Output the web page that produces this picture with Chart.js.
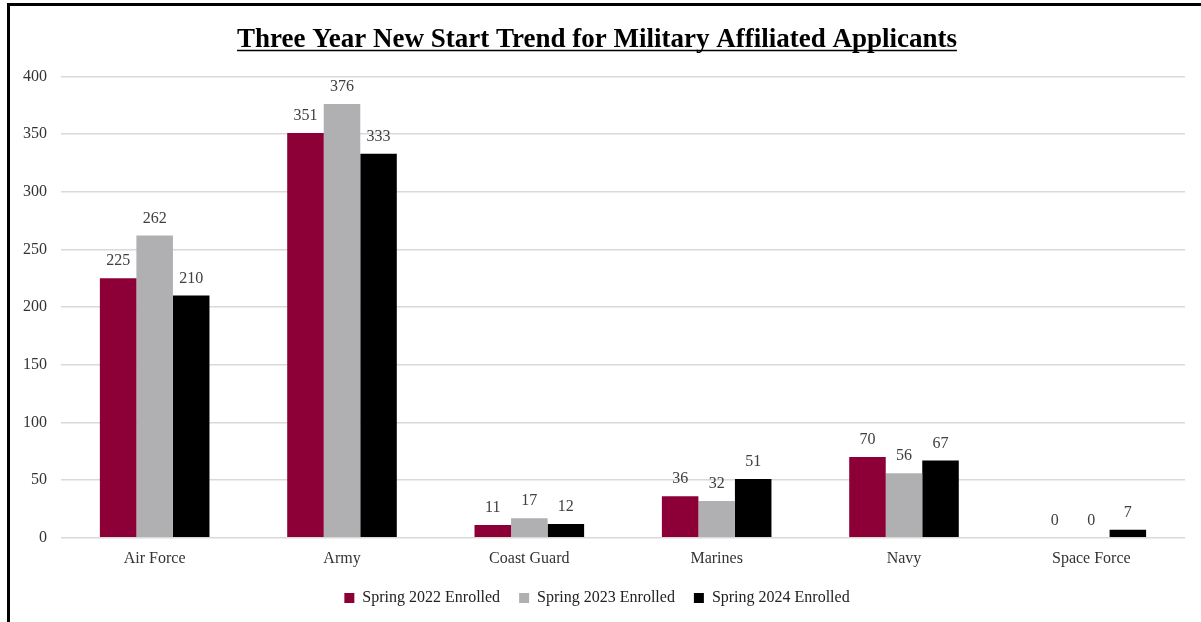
<!DOCTYPE html>
<html lang="en">
  <head>
    <meta charset="UTF-8" />
    <title>Three Year New Start Trend</title>
    <script src="https://cdn.jsdelivr.net/npm/chart.js"></script>
    <style>
      body { margin: 0; background: #fff; overflow: hidden; }
      .wrap { position: relative; width: 1201px; height: 622px; }
      .frame {
        position: absolute; left: 7px; top: 3px; width: 1300px; height: 700px;
        border-left: 3px solid #000; border-top: 3px solid #000;
      }
      canvas { position: absolute; left: 0; top: 0; }
    </style>
  </head>
  <body>
    <div class="wrap">
      <div class="frame"></div>
      <canvas id="chart" width="1201" height="622"></canvas>
    </div>

    <script>
      // chart data
      const branches = ["Air Force", "Army", "Coast Guard", "Marines", "Navy", "Space Force"];
      const spring2022 = [225, 351, 11, 36, 70, 0];
      const spring2023 = [262, 376, 17, 32, 56, 0];
      const spring2024 = [210, 333, 12, 51, 67, 7];
      const yTicks = [0, 50, 100, 150, 200, 250, 300, 350, 400];

      const serif = "'Liberation Serif', 'DejaVu Serif', serif";
      const titleSize = 27;
      const titlePadTop = 10;

      // numbers above each bar
      const barLabels = {
        id: "barLabels",
        afterDatasetsDraw(chart) {
          const ctx = chart.ctx;
          ctx.save();
          ctx.font = "16px " + serif;
          ctx.fillStyle = "#404040";
          ctx.textAlign = "center";
          ctx.textBaseline = "alphabetic";
          chart.data.datasets.forEach((ds, i) => {
            chart.getDatasetMeta(i).data.forEach((bar, j) => {
              ctx.fillText(ds.data[j], bar.x, bar.y - 13);
            });
          });
          ctx.restore();
        }
      };

      // underline the title
      const titleUnderline = {
        id: "titleUnderline",
        afterDraw(chart) {
          const t = chart.titleBlock;
          const ctx = chart.ctx;
          ctx.save();
          ctx.font = "bold " + titleSize + "px " + serif;
          const w = ctx.measureText(chart.options.plugins.title.text).width;
          const cx = t.left + t.width / 2;
          const y = t.top + titlePadTop + titleSize * 1.2 - 6;
          ctx.strokeStyle = "#000";
          ctx.lineWidth = 1.5;
          ctx.beginPath();
          ctx.moveTo(cx - w / 2, y);
          ctx.lineTo(cx + w / 2, y);
          ctx.stroke();
          ctx.restore();
        }
      };

      new Chart(document.getElementById("chart").getContext("2d"), {
        type: "bar",
        data: {
          labels: branches,
          datasets: [
            { label: "Spring 2022 Enrolled", data: spring2022, backgroundColor: "#8c0037" },
            { label: "Spring 2023 Enrolled", data: spring2023, backgroundColor: "#b0b0b2" },
            { label: "Spring 2024 Enrolled", data: spring2024, backgroundColor: "#000000" }
          ]
        },
        options: {
          responsive: false,
          animation: false,
          layout: { padding: { left: 9, right: 16, top: 14, bottom: 6 } },
          datasets: { bar: { barPercentage: 1, categoryPercentage: 0.585 } },
          plugins: {
            title: {
              display: true,
              text: "Three Year New Start Trend for Military Affiliated Applicants",
              color: "#000",
              font: { family: serif, size: titleSize, weight: "bold" },
              padding: { top: titlePadTop, bottom: 20 }
            },
            legend: {
              position: "bottom",
              labels: {
                boxWidth: 10,
                boxHeight: 10,
                padding: 19,
                color: "#222",
                font: { family: serif, size: 16 }
              }
            },
            tooltip: { enabled: false }
          },
          scales: {
            x: {
              grid: { display: false },
              border: { display: false },
              ticks: { color: "#333", font: { family: serif, size: 16 }, padding: 3 }
            },
            y: {
              min: 0,
              max: 400,
              afterBuildTicks: (axis) => { axis.ticks = yTicks.map((v) => ({ value: v })); },
              grid: { color: "#d9d9d9", lineWidth: 1.5, drawTicks: false },
              border: { display: false },
              ticks: { color: "#333", font: { family: serif, size: 16 }, padding: 14 }
            }
          }
        },
        plugins: [barLabels, titleUnderline]
      });
    </script>
  </body>
</html>
